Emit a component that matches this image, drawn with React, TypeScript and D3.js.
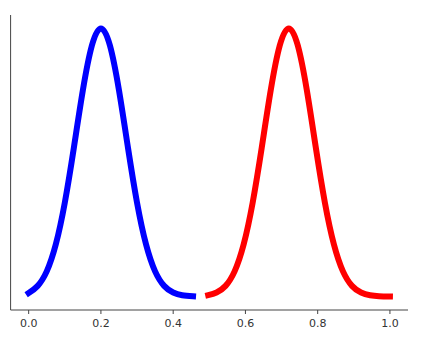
import React from "react";
import * as d3 from "d3";

const blueX = [0, 0.025, 0.05, 0.075, 0.1, 0.125, 0.15, 0.175, 0.2, 0.225, 0.25, 0.275, 0.3, 0.325, 0.35, 0.375, 0.4, 0.425, 0.455];
const blueY = [0.013, 0.04, 0.094, 0.194, 0.35, 0.554, 0.769, 0.936, 1.0, 0.936, 0.769, 0.554, 0.35, 0.194, 0.094, 0.04, 0.015, 0.005, 0.001];
const redX = [0.497, 0.52, 0.545, 0.57, 0.595, 0.62, 0.645, 0.67, 0.695, 0.72, 0.745, 0.77, 0.795, 0.82, 0.845, 0.87, 0.895, 0.92, 0.945, 0.97, 1.0];
const redY = [0.0054, 0.015, 0.04, 0.094, 0.194, 0.35, 0.554, 0.769, 0.936, 1.0, 0.936, 0.769, 0.554, 0.35, 0.194, 0.094, 0.04, 0.015, 0.005, 0.0014, 0.0003];
const xTicks = [0, 0.2, 0.4, 0.6, 0.8, 1.0];
const xTickLabels = ["0.0", "0.2", "0.4", "0.6", "0.8", "1.0"];

const W = 423;
const H = 339;
const left = 10.6;
const right = 408;
const top = 15;
const bottom = 310;

export default function App() {
  const x = d3.scaleLinear().domain([-0.05, 1.05]).range([left, right]);
  const y = d3.scaleLinear().domain([-0.05, 1.05]).range([bottom, top]);
  const line = d3
    .line<[number, number]>()
    .x((d) => x(d[0]))
    .y((d) => y(d[1]))
    .curve(d3.curveNatural);
  const blue = blueX.map((v, i) => [v, blueY[i]] as [number, number]);
  const red = redX.map((v, i) => [v, redY[i]] as [number, number]);
  return (
    <svg
      width={W}
      height={H}
      style={{ position: "absolute", left: 0, top: 0, background: "#fff" }}
      fontFamily="DejaVu Sans"
    >
      <path d={line(blue) || ""} fill="none" stroke="#0000ff" strokeWidth={6} strokeLinecap="square" strokeLinejoin="round" />
      <path d={line(red) || ""} fill="none" stroke="#ff0000" strokeWidth={6} strokeLinecap="square" strokeLinejoin="round" />
      <line x1={left} x2={left} y1={top} y2={bottom} stroke="#444" strokeWidth={1} />
      <line x1={left} x2={right} y1={bottom} y2={bottom} stroke="#444" strokeWidth={1} />
      {xTicks.map((t, i) => (
        <g key={t} transform={`translate(${x(t)},${bottom})`}>
          <line y1={0} y2={4} stroke="#444" strokeWidth={1} />
          <text y={17} textAnchor="middle" fontSize={11} fill="#333">
            {xTickLabels[i]}
          </text>
        </g>
      ))}
    </svg>
  );
}
